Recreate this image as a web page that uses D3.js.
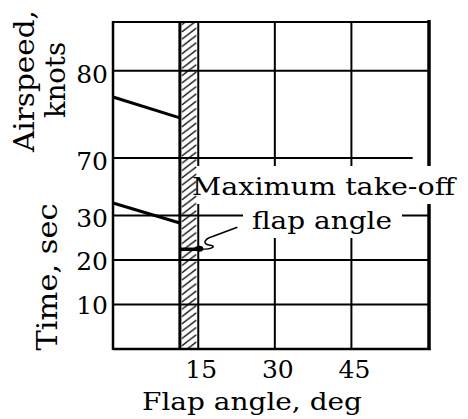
<!DOCTYPE html>
<html>
<head>
<meta charset="utf-8">
<script src="https://cdn.jsdelivr.net/npm/d3@7"></script>
<style>
  body { margin: 0; background: #fff; }
  text { font-family: "DejaVu Serif", serif; fill: #000; }
</style>
</head>
<body>
<div id="chart"></div>
<script>

// data
var flapTicks = [15, 30, 45];
var airspeedTicks = [70, 80];
var timeTicks = [10, 20, 30];

var airspeedFlap = [-1.7, 11.4];
var airspeedKnots = [77.0, 74.6];

var timeFlap = [-1.7, 11.4];
var timeSec = [32.8, 28.3];

// max take-off flap band (deg) and the time it is marked at
var maxFlapBand = [11.4, 15];
var markerFlap = [11.4, 15.4];
var markerTime = 22.4;

var width = 468, height = 419;

var svg = d3.select("#chart").append("svg")
  .attr("width", width)
  .attr("height", height);

var x = d3.scaleLinear().domain([-1.7, 60.2]).range([113, 429]);
var yA = d3.scaleLinear().domain([70, 85.6]).range([158, 22]);
var yT = d3.scaleLinear().domain([0, 42.9]).range([349, 158]);

// hatch, one short "/" stroke per tile
var bandW = x(maxFlapBand[1]) - x(maxFlapBand[0]);
var hh = 7.3;
var hatchPath = "";
[-1, 0, 1].forEach(function(k) {
  hatchPath += "M2," + (10 + k * hh) + " L" + (bandW - 2) + "," + (-1 + k * hh) + " ";
});
var pat = svg.append("defs").append("pattern")
  .attr("id", "hatch")
  .attr("patternUnits", "userSpaceOnUse")
  .attr("x", x(maxFlapBand[0])).attr("y", 0)
  .attr("width", bandW).attr("height", hh);
pat.append("path")
  .attr("d", hatchPath)
  .attr("stroke", "#000").attr("stroke-width", 1.3);

var g = svg.append("g");

// hatched band
g.append("rect")
  .attr("x", x(maxFlapBand[0]))
  .attr("y", yA.range()[1])
  .attr("width", bandW)
  .attr("height", yT(0) - yA.range()[1])
  .attr("fill", "url(#hatch)");

// vertical grid
g.selectAll(".vgrid").data(flapTicks).enter().append("line")
  .attr("x1", d => x(d)).attr("x2", d => x(d))
  .attr("y1", yA.range()[1]).attr("y2", yT(0))
  .attr("stroke", "#000").attr("stroke-width", 2);

// horizontal grid, airspeed panel
g.selectAll(".hgridA").data(airspeedTicks).enter().append("line")
  .attr("x1", x.range()[0])
  .attr("x2", d => d == 70 ? x(57) : x.range()[1])
  .attr("y1", d => yA(d)).attr("y2", d => yA(d))
  .attr("stroke", "#000").attr("stroke-width", 2);

// horizontal grid, time panel
g.selectAll(".hgridT").data(timeTicks).enter().append("line")
  .attr("x1", x.range()[0]).attr("x2", x.range()[1])
  .attr("y1", d => yT(d)).attr("y2", d => yT(d))
  .attr("stroke", "#000").attr("stroke-width", 2);

// band left edge
g.append("line")
  .attr("x1", x(maxFlapBand[0])).attr("x2", x(maxFlapBand[0]))
  .attr("y1", yA.range()[1]).attr("y2", yT(0))
  .attr("stroke", "#000").attr("stroke-width", 3);

// frame
g.append("line") // top
  .attr("x1", x.range()[0]).attr("x2", x.range()[1])
  .attr("y1", yA.range()[1]).attr("y2", yA.range()[1])
  .attr("stroke", "#000").attr("stroke-width", 2);
g.append("line") // bottom
  .attr("x1", x.range()[0]).attr("x2", x.range()[1] + 1.5)
  .attr("y1", yT(0)).attr("y2", yT(0))
  .attr("stroke", "#000").attr("stroke-width", 2.5);
g.append("line") // left
  .attr("x1", x.range()[0]).attr("x2", x.range()[0])
  .attr("y1", yA.range()[1] - 1).attr("y2", yT(0) + 1)
  .attr("stroke", "#000").attr("stroke-width", 2.5);
g.append("line") // right
  .attr("x1", x.range()[1]).attr("x2", x.range()[1])
  .attr("y1", yA.range()[1] - 2).attr("y2", yT(0) + 1)
  .attr("stroke", "#000").attr("stroke-width", 3.5);

// data lines
var lineA = d3.line().x(d => x(d[0])).y(d => yA(d[1]));
var lineT = d3.line().x(d => x(d[0])).y(d => yT(d[1]));

g.append("path")
  .attr("d", lineA(d3.zip(airspeedFlap, airspeedKnots)))
  .attr("fill", "none").attr("stroke", "#000").attr("stroke-width", 3);
g.append("path")
  .attr("d", lineT(d3.zip(timeFlap, timeSec)))
  .attr("fill", "none").attr("stroke", "#000").attr("stroke-width", 3);

// annotation with white knock-out behind the text
var ann = svg.append("g");
ann.append("rect").attr("x", 197).attr("y", 166).attr("width", 271).attr("height", 38).attr("fill", "#fff");
ann.append("rect").attr("x", 243).attr("y", 204).attr("width", 159).attr("height", 34).attr("fill", "#fff");
ann.append("text").attr("x", 192).attr("y", 195)
  .attr("font-size", 25).attr("textLength", 263).attr("lengthAdjust", "spacingAndGlyphs")
  .text("Maximum take-off");
ann.append("text").attr("x", 252).attr("y", 229)
  .attr("font-size", 25).attr("textLength", 140).attr("lengthAdjust", "spacingAndGlyphs")
  .text("flap angle");

// marker at max take-off flap angle
ann.append("line")
  .attr("x1", x(markerFlap[0])).attr("x2", x(markerFlap[1]))
  .attr("y1", yT(markerTime)).attr("y2", yT(markerTime))
  .attr("stroke", "#000").attr("stroke-width", 3.5);
ann.append("ellipse")
  .attr("cx", x(markerFlap[1]) - 1).attr("cy", yT(markerTime) - 0.5)
  .attr("rx", 4).attr("ry", 3).attr("fill", "#000");
var mx = x(markerFlap[1]), my = yT(markerTime);
ann.append("path")
  .attr("d", "M" + (mx + 37) + "," + (my - 22) + " L" + (mx + 13) + "," + (my - 13) +
        " C" + (mx + 3) + "," + (my - 10) + " " + (mx + 2) + "," + (my - 5) + " " + (mx + 10) + "," + (my - 4) +
        " C" + (mx + 16) + "," + (my - 3) + " " + (mx + 12) + "," + (my) + " " + (mx + 1) + "," + (my))
  .attr("fill", "none").attr("stroke", "#000").attr("stroke-width", 1.6);

// tick labels
svg.selectAll(".xt").data(flapTicks).enter().append("text")
  .attr("x", d => x(d) + 3).attr("y", 378)
  .attr("text-anchor", "middle").attr("font-size", 25)
  .text(d => d);

svg.selectAll(".yta").data(airspeedTicks).enter().append("text")
  .attr("x", 108).attr("y", d => yA(d) + 12)
  .attr("text-anchor", "end").attr("font-size", 25)
  .text(d => d);

svg.selectAll(".ytt").data(timeTicks).enter().append("text")
  .attr("x", 108).attr("y", d => yT(d) + (d == 30 ? 12 : 10))
  .attr("text-anchor", "end").attr("font-size", 25)
  .text(d => d);

// axis titles
svg.append("text").attr("x", 142).attr("y", 410)
  .attr("font-size", 25).attr("textLength", 220).attr("lengthAdjust", "spacingAndGlyphs")
  .text("Flap angle, deg");

svg.append("text")
  .attr("transform", "translate(34,81) rotate(-90)")
  .attr("text-anchor", "middle").attr("font-size", 28)
  .attr("textLength", 142).attr("lengthAdjust", "spacingAndGlyphs")
  .text("Airspeed,");
svg.append("text")
  .attr("transform", "translate(65,80) rotate(-90)")
  .attr("text-anchor", "middle").attr("font-size", 28)
  .attr("textLength", 76).attr("lengthAdjust", "spacingAndGlyphs")
  .text("knots");
svg.append("text")
  .attr("transform", "translate(57,277) rotate(-90)")
  .attr("text-anchor", "middle").attr("font-size", 28)
  .attr("textLength", 147).attr("lengthAdjust", "spacingAndGlyphs")
  .text("Time, sec");

</script>
</body>
</html>
